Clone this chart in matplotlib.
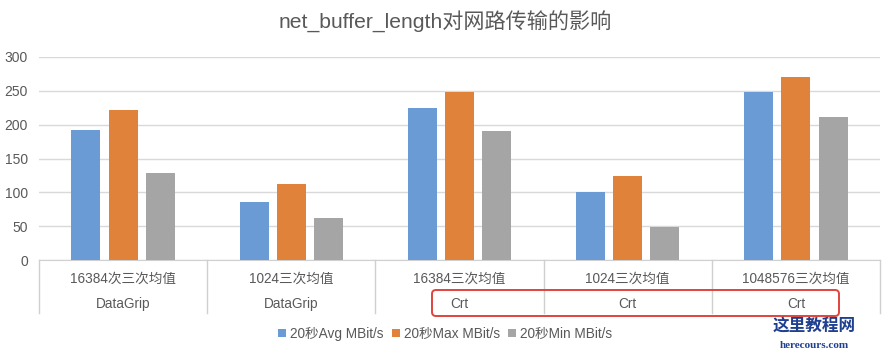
import numpy as np
from matplotlib import pyplot as plt
from matplotlib.patches import FancyBboxPatch
from matplotlib.transforms import blended_transform_factory

plt.rcParams['font.family'] = ['Liberation Sans', 'Noto Sans CJK SC', 'DejaVu Sans']

# data
runs = ['16384次三次均值', '1024三次均值', '16384三次均值', '1024三次均值', '1048576三次均值']
tools = ['DataGrip', 'DataGrip', 'Crt', 'Crt', 'Crt']
series = ['20秒Avg MBit/s', '20秒Max MBit/s', '20秒Min MBit/s']
avg = [192, 86, 224, 100, 249]
mx = [221, 113, 249, 124, 270]
mn = [129, 62, 190, 49, 211]
colors = ['#6a9bd4', '#e0823a', '#a5a5a5']
txt = '#595959'

fig = plt.figure(figsize=(8.9, 3.56), dpi=100)
ax = fig.add_axes([39/890, 1 - 260/356, (880-39)/890, 203/356])

x = np.arange(len(runs))
w = 0.173
for i, (vals, c, lab) in enumerate(zip([avg, mx, mn], colors, series)):
    ax.bar(x + (i - 1) * 0.221, vals, width=w, color=c, label=lab, zorder=3)

ax.set_xlim(-0.5, len(runs) - 0.5)
ax.set_ylim(0, 300)
ax.set_yticks(np.arange(0, 301, 50))
ax.yaxis.grid(True, color='#d9d9d9', lw=1, zorder=0)
for s in ['top', 'right', 'left']:
    ax.spines[s].set_visible(False)
ax.spines['bottom'].set_color('#d0d0d0')
ax.tick_params(axis='y', length=0, labelsize=10, labelcolor=txt, pad=8)
ax.set_xticks([])

# two-level category axis
tr = blended_transform_factory(ax.transData, ax.transAxes)
for b in np.arange(-0.5, len(runs), 1.0):
    ax.plot([b, b], [0, -0.261], transform=tr, color='#d0d0d0', lw=1, clip_on=False)
for i in range(len(runs)):
    ax.text(x[i], -0.094, runs[i], transform=tr, ha='center', va='center', fontsize=9.8, color=txt)
    ax.text(x[i], -0.217, tools[i], transform=tr, ha='center', va='center', fontsize=9.8, color=txt)

# red highlight around the Crt labels
box = FancyBboxPatch((4.32, 0.40), 4.07, 0.26, boxstyle='round,pad=0,rounding_size=0.04',
                     transform=fig.dpi_scale_trans, fill=False, ec='#e0443c', lw=1.4)
fig.add_artist(box)

fig.text(0.5, 1 - 22/356, 'net_buffer_length对网路传输的影响', ha='center', va='center',
         fontsize=15.2, color=txt)

ax.legend(loc='center', bbox_to_anchor=(0.5, 0.062), bbox_transform=fig.transFigure, ncol=3,
          frameon=False, fontsize=9.8, handlelength=0.6, handleheight=0.6,
          handletextpad=0.3, columnspacing=0.6, labelcolor=txt)

# watermark
fig.text(0.915, 1 - 326/356, '这里教程网', ha='center', va='center', fontsize=12,
         fontweight='bold', color='#1f3f8f', family=['Noto Sans CJK SC'])
fig.text(0.915, 1 - 345/356, 'herecours.com', ha='center', va='center', fontsize=8,
         fontweight='bold', color='#1f3f8f', family=['Liberation Serif'])

fig.savefig('out.png', dpi=100)
